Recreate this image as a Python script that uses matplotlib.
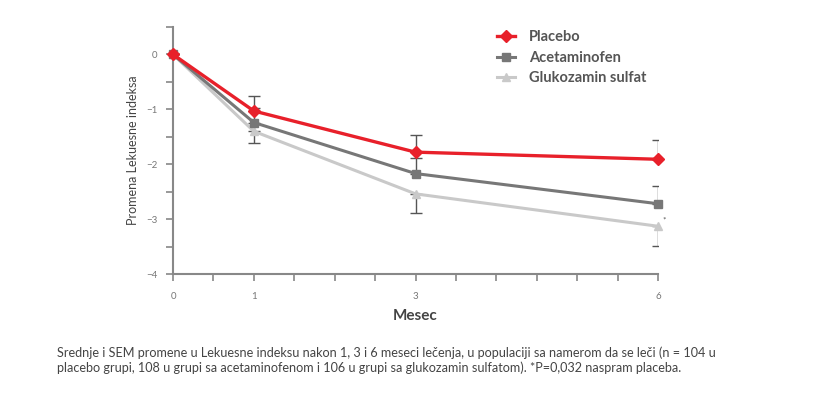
import matplotlib.pyplot as plt
from matplotlib.ticker import MultipleLocator

# data
months = [0, 1, 3, 6]
placebo = [0.0, -1.03, -1.78, -1.91]
acetaminofen = [0.0, -1.24, -2.17, -2.72]
glukozamin = [0.0, -1.40, -2.54, -3.13]
# SEM shown one-sided: up for placebo/acetaminofen, down for glukozamin
placebo_sem = [0.0, 0.28, 0.32, 0.36]
acetaminofen_sem = [0.0, 0.26, 0.29, 0.33]
glukozamin_sem = [0.0, 0.22, 0.34, 0.36]

labels = ["Placebo", "Acetaminofen", "Glukozamin sulfat"]
caption = ("Srednje i SEM promene u Lekuesne indeksu nakon 1, 3 i 6 meseci lečenja, u populaciji sa namerom da se leči (n = 104 u\n"
           "placebo grupi, 108 u grupi sa acetaminofenom i 106 u grupi sa glukozamin sulfatom). *P=0,032 naspram placeba.")

plt.rcParams['font.family'] = ['Lato', 'DejaVu Sans']

fig = plt.figure(figsize=(8.21, 3.97), dpi=100)
ax = fig.add_axes([173 / 821, 1 - 274 / 397, (658 - 173) / 821, (274 - 27) / 397])

red, grey, light = "#e8202a", "#777777", "#c9c9c9"
ebc = "#555555"

zero = [0] * len(months)
ax.errorbar(months, glukozamin, yerr=[glukozamin_sem, zero], fmt="none",
            ecolor=ebc, elinewidth=1, capsize=4, capthick=1, zorder=1)
ax.errorbar(months, acetaminofen, yerr=[zero, acetaminofen_sem], fmt="none",
            ecolor=ebc, elinewidth=1, capsize=4, capthick=1, zorder=1)
ax.errorbar(months, placebo, yerr=[zero, placebo_sem], fmt="none",
            ecolor=ebc, elinewidth=1, capsize=4, capthick=1, zorder=1)

ax.plot(months, glukozamin, color=light, lw=2.2, marker="^", ms=6,
        label=labels[2], zorder=2, clip_on=False)
ax.plot(months, acetaminofen, color=grey, lw=2.2, marker="s", ms=6,
        label=labels[1], zorder=3, clip_on=False)
ax.plot(months, placebo, color=red, lw=2.4, marker="D", ms=6,
        label=labels[0], zorder=4, clip_on=False)

ax.text(months[-1] + 0.06, glukozamin[-1] + 0.12, "*", fontsize=6, color="#555555",
        ha="left", va="center")

ax.set_xlim(0, 6)
ax.set_ylim(-4, 0.5)
ax.set_xticks(months)
ax.xaxis.set_minor_locator(MultipleLocator(0.5))
ax.set_yticks([0, -1, -2, -3, -4])
ax.yaxis.set_minor_locator(MultipleLocator(0.5))

for s in ["top", "right"]:
    ax.spines[s].set_visible(False)
for s in ["left", "bottom"]:
    ax.spines[s].set_color("#888888")
    ax.spines[s].set_linewidth(1.5)
ax.tick_params(which="both", colors="#888888", width=1.2, length=5, labelsize=7, pad=6)
ax.tick_params(axis="x", pad=8)
for t in ax.get_xticklabels() + ax.get_yticklabels():
    t.set_color("#777777")

ax.set_ylabel("Promena Lekuesne indeksa", fontsize=9, color="#444444", labelpad=5)
ax.set_xlabel("Mesec", fontsize=11, color="#444444", fontweight="bold", labelpad=6)

h, l = ax.get_legend_handles_labels()
leg = ax.legend(h[::-1], l[::-1], loc="upper left", bbox_to_anchor=(0.64, 1.04),
                frameon=False, fontsize=10.5, handlelength=1.3, labelspacing=0.45,
                handletextpad=0.9)
for t in leg.get_texts():
    t.set_color("#555555")
    t.set_fontweight("bold")

fig.text(57 / 821, 1 - 346 / 397, caption, fontsize=9.1, color="#444444",
         ha="left", va="top", linespacing=1.3)

fig.savefig("out.png", dpi=100)
